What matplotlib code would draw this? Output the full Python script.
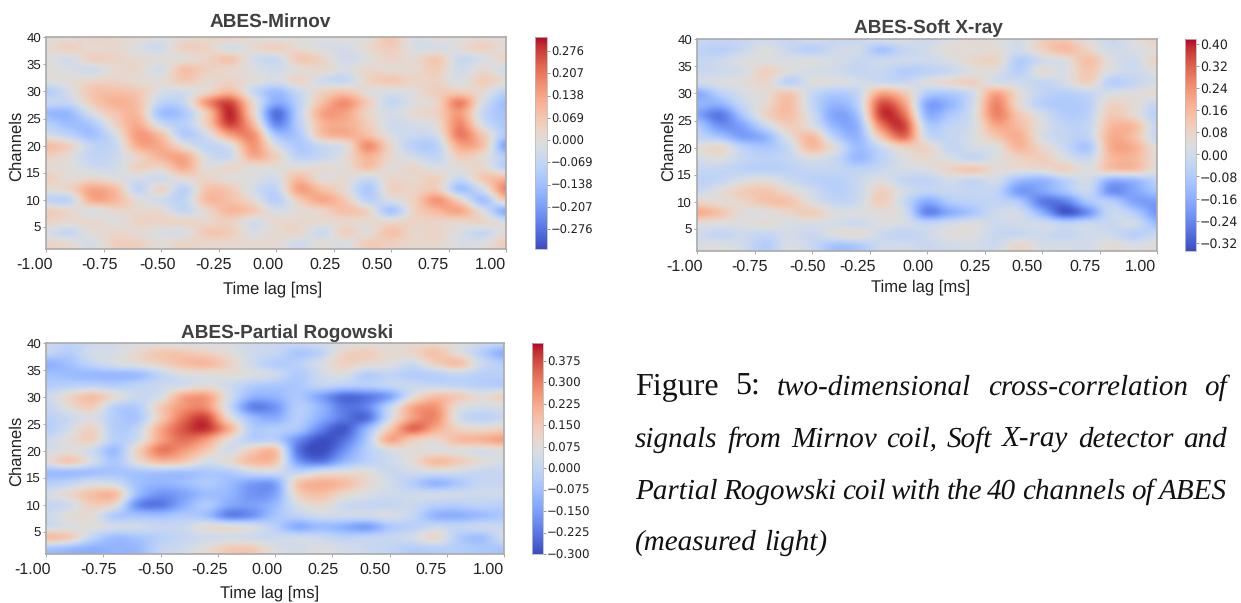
import numpy as np
import matplotlib
matplotlib.use("Agg")
import matplotlib.pyplot as plt
from matplotlib.transforms import ScaledTranslation

plt.rcParams["text.hinting"] = "no_hinting"
W, H = 1241, 603
time_lag = [round(-1 + 0.1 * i, 1) for i in range(21)]
channels = list(range(40, 0, -2))
x_ticks = [-1.00, -0.75, -0.50, -0.25, 0.00, 0.25, 0.50, 0.75, 1.00]
x_tick_labels = ["-1.00", "-0.75", "-0.50", "-0.25", "0.00", "0.25", "0.50", "0.75", "1.00"]
y_ticks = [5, 10, 15, 20, 25, 30, 35, 40]
titles = ["ABES-Mirnov", "ABES-Soft X-ray", "ABES-Partial Rogowski"]

# correlation x 100, rows = channels 40..2, columns = time lag -1..1
mirnov = [
 [0,0,3,2,1,-1,1,2,4,0,-1, -1,-1,0,0,7,-2,1,-1,1,1],
 [1,4,1,2,-2,-4,4,3,-3,1,4, 1,-2,-3,1,5,-2,-3,0,4,0],
 [-1,-3,4,3,1,0,0,3,7,-3,-5, 6,3,-4,-1,3,1,6,-5,-2,3],
 [0,-2,-4,1,2,-3,8,4,2,-1,-4, 0,2,-2,2,1,1,5,-4,1,-4],
 [-1,0,2,3,1,0,6,2,3,0,-3, 3,-4,-6,3,6,3,3,-2,5,1],
 [-10,-3,7,8,6,-2,-3,2,9,-5,-14, -5,3,6,0,-2,0,5,4,1,-8],
 [-6,-6,5,11,8,-7,-6,16,26,2,-18, -8,8,17,5,-6,-1,3,19,-2,-14],
 [-15,-15,-2,7,9,-13,-11,6,30,4,-28, -8,13,14,3,-3,1,4,15,-6,-13],
 [-9,-14,-11,3,12,-5,-9,5,27,10,-24, -9,10,12,5,-4,-3,1,18,-3,-12],
 [-3,-8,-13,-3,15,8,-10,-3,14,17,-12, -11,8,12,8,-2,-5,-3,20,6,-11],
 [9,4,-7,-6,12,12,0,-7,-2,16,-2, -11,-5,-1,17,2,-9,-8,13,8,-20],
 [4,0,-7,-5,3,11,13,-3,-5,12,4, -8,-6,0,11,2,-4,-7,5,1,-10],
 [1,0,-4,-4,4,3,12,0,2,0,0, 0,1,0,8,0,2,-2,0,2,-9],
 [5,0,2,-1,-3,-4,1,3,0,-1,-3, 9,0,1,-5,2,2,4,-5,6,10],
 [0,3,13,9,-7,3,-8,7,6,-3,-7, 14,8,1,-11,3,3,5,-13,-3,19],
 [-7,-7,12,10,0,-4,-7,9,8,1,-9, 5,13,6,-8,-2,4,16,3,-13,6],
 [5,2,-2,2,2,1,-6,2,10,6,-2, 0,3,8,3,-12,3,10,13,-2,-18],
 [3,1,2,-1,3,3,3,2,4,-3,1, 2,1,2,1,2,3,3,2,3,-3],
 [-2,-6,0,2,1,-2,-2,6,5,-2,1, 2,-5,4,0,8,2,3,-2,-6,1],
 [3,1,-3,4,4,0,3,2,2,1,1, -4,0,-2,5,4,2,2,-2,-1,5],
]
soft_xray = [
 [-2,-3,-2,-1,-2,0,-2,-2,2,2,-1,2,7,4,0,10,12,4,-2,3,10],
 [-4,-6,-2,3,-2,-6,-1,0,-10,-3,0,5,4,5,0,8,15,8,0,2,5],
 [-3,-1,3,3,2,3,1,-2,-1,-1,-1,2,7,8,-7,0,3,14,3,-1,9],
 [-2,-1,1,9,3,1,0,-3,-2,-7,-5,-2,3,3,-6,5,2,12,2,-1,3],
 [0,2,4,7,-5,3,3,1,-1,-2,3,7,9,1,0,-3,1,9,-6,-3,1],
 [-17,-6,1,5,12,-2,-8,-3,20,12,-7,-8,0,20,5,-4,-6,-3,2,3,6],
 [-14,-15,-2,6,15,-3,-14,-5,34,22,-17,-14,0,26,6,-6,-8,-6,8,5,-3],
 [-18,-27,-9,8,14,0,-18,-10,36,30,-14,-9,1,26,12,1,-7,-5,11,6,-6],
 [-8,-22,-18,-2,10,3,-14,-14,26,36,-6,-4,1,19,15,3,-4,-3,15,15,-3],
 [-4,-10,-19,-14,4,15,-6,-14,12,30,-1,-3,2,12,18,2,-3,-4,18,14,-3],
 [4,7,-5,-9,-2,15,3,-12,-2,8,8,-3,1,3,16,7,-2,-9,18,18,4],
 [1,3,-3,-5,-3,2,-2,-13,-5,3,6,2,-3,3,8,10,3,-2,15,16,5],
 [-3,-3,-5,-6,-5,-3,-3,-5,-2,1,2,8,12,5,5,5,9,3,13,14,4],
 [-5,-3,2,4,-1,-5,-6,-2,3,-3,-4,0,-3,0,-12,-14,-6,0,-15,-13,-5],
 [-2,4,10,12,6,0,-6,-2,9,1,-4,-2,-3,-4,-20,-18,-10,-2,-22,-18,-10],
 [8,5,7,13,13,3,-3,-1,10,-2,-17,-8,-5,-4,-8,-26,-26,-10,-6,-18,-20],
 [19,13,4,3,7,10,3,3,4,1,-24,-16,-9,-1,0,-15,-32,-22,-2,-7,-21],
 [4,3,3,5,2,2,1,-1,3,1,-3,0,3,-1,0,0,-4,-2,-2,0,-12],
 [0,-3,-1,-3,1,-2,3,5,-1,-4,-1,4,3,-2,-2,-1,-3,0,-1,-6,-2],
 [2,3,0,-7,2,-2,-10,-8,-1,0,-2,0,1,-1,7,1,1,0,5,2,4],
]
rogowski = [
 [3,0,2,4,5,5,4,5,5,3,2,2,4,5,7,7,9,9,7,3,2],
 [0,-3,4,5,10,15,15,12,8,3,1,-5,-1,11,13,9,11,16,8,-2,-12],
 [-11,-7,0,5,8,12,17,19,12,3,-3,-2,5,12,10,7,3,12,17,3,-3],
 [-7,-8,-9,-9,-8,0,6,7,8,6,3,-4,3,6,-3,0,-3,-2,1,-2,-2],
 [-3,-2,-1,-3,-1,2,4,8,3,-3,-5,-5,0,-2,-3,0,2,1,0,-2,-3],
 [2,10,17,9,2,5,22,24,5,-10,-10,-5,-14,-24,-22,-14,6,17,14,8,13],
 [0,8,13,-2,-3,14,26,27,2,-20,-17,-3,-10,-22,-20,0,22,26,8,4,5],
 [-2,2,6,-3,-5,14,32,38,10,-8,-12,-3,-12,-22,-24,3,24,28,5,-1,2],
 [-3,4,12,-3,0,22,36,40,21,-3,-3,-5,-20,-28,-10,14,33,22,12,10,12],
 [2,8,12,-2,3,23,32,25,8,-2,-2,-18,-29,-24,-5,22,14,10,18,20,24],
 [4,7,3,-8,12,30,25,15,4,14,17,-22,-30,-18,-3,5,8,7,7,5,7],
 [7,15,5,-5,8,18,15,5,9,18,16,-15,-22,-10,-2,3,8,18,14,8,5],
 [-8,-8,-7,-6,-6,-6,-7,-5,-4,2,3,0,6,8,8,2,3,4,3,1,1],
 [-3,0,5,3,-7,-10,-8,-4,-8,-15,-14,15,21,18,10,4,-3,-10,-5,1,1],
 [4,10,17,18,-8,-17,-14,-8,-10,-17,-14,12,17,10,6,3,3,3,3,3,3],
 [1,3,13,9,-18,-22,-12,-4,-13,-15,-9,5,10,3,1,1,2,-2,-3,-1,-2],
 [2,8,8,-4,-6,-7,-4,-7,-20,-17,-6,-1,3,3,3,5,1,-10,-11,-8,-5],
 [3,6,7,4,3,1,2,8,8,5,-2,-12,-8,-11,-15,-5,-2,2,0,2,2],
 [18,14,0,-8,-6,-2,1,3,4,3,2,3,2,-1,0,1,4,10,-3,-7,3],
 [-5,-8,-11,-10,-9,0,3,8,14,14,6,4,6,4,2,0,-3,-2,-3,-5,-5],
]
mirnov_ticks = [-0.276, -0.207, -0.138, -0.069, 0.0, 0.069, 0.138, 0.207, 0.276]
sxr_ticks = [-0.32, -0.24, -0.16, -0.08, 0.0, 0.08, 0.16, 0.24, 0.32, 0.40]
rog_ticks = [-0.300, -0.225, -0.150, -0.075, 0.0, 0.075, 0.150, 0.225, 0.300, 0.375]

panels = [
    dict(data=mirnov, box=(46, 37, 506, 249), cbar=(535, 547), vmin=-0.338, vmax=0.32,
         ticks=mirnov_ticks, fmt="{:.3f}", cfs=8.3, title_xy=(270, 22), xlab_xy=(273, 289), ylab_xy=(17, 146),
         off=[-11, -3.5, -3, -4.5, -8, -8.5, -14, -15.5, -16]),
    dict(data=soft_xray, box=(697, 39, 1157, 251), cbar=(1185, 1196), vmin=-0.35, vmax=0.418,
         ticks=sxr_ticks, fmt="{:.2f}", cfs=9, title_xy=(928, 28), xlab_xy=(921, 287), ylab_xy=(669, 146),
         off=[-12, -4.5, -4, -11.5, -9, -9.5, -15, -14.5, -17]),
    dict(data=rogowski, box=(46, 343, 504, 554), cbar=(532, 543), vmin=-0.30, vmax=0.438,
         ticks=rog_ticks, fmt="{:.3f}", cfs=8.5, title_xy=(287, 333), xlab_xy=(270, 593), ylab_xy=(17, 451),
         off=[-13, -5, -4.5, -8, -8, -9, -14.5, -16, -16]),
]

fig = plt.figure(figsize=(W / 100, H / 100), dpi=100, facecolor="white")
sans = "Liberation Sans"
dark = "#222222"
dx = time_lag[1] - time_lag[0]

for p in panels:
    x0, y0, x1, y1 = p["box"]
    ax = fig.add_axes([x0 / W, 1 - y1 / H, (x1 - x0) / W, (y1 - y0) / H])
    im = ax.imshow(np.array(p["data"]) / 100, cmap="coolwarm", vmin=p["vmin"], vmax=p["vmax"],
                   aspect="auto", interpolation="catrom", origin="upper",
                   extent=(time_lag[0] - dx / 2, time_lag[-1] + dx / 2, channels[-1] - 1, channels[0] + 1))
    ax.set_xlim(-1, 1)
    ax.set_ylim(1, 40)
    ax.set_xticks(x_ticks, x_tick_labels, fontfamily=sans, fontsize=11.5, color=dark)
    ax.set_yticks(y_ticks, [str(v) for v in y_ticks], fontfamily=sans, fontsize=9.5, color=dark)
    ax.tick_params(axis="x", length=2, width=0.6, color="#999999", pad=4)
    ax.tick_params(axis="y", length=2, width=0.6, color="#999999", pad=1.5)
    for lab, d in zip(ax.get_xticklabels(), p["off"]):
        lab.set_transform(lab.get_transform() + ScaledTranslation(d / 100, 0, fig.dpi_scale_trans))
    for s in ax.spines.values():
        s.set_color("#aaaaaa")
        s.set_linewidth(1.2)
    cx0, cx1 = p["cbar"]
    cax = fig.add_axes([cx0 / W, 1 - y1 / H, (cx1 - cx0) / W, (y1 - y0) / H])
    cb = fig.colorbar(im, cax=cax, ticks=p["ticks"])
    cb.ax.set_yticklabels([p["fmt"].format(t).replace("-", "\u2212") for t in p["ticks"]],
                          fontfamily="DejaVu Sans", fontsize=p["cfs"], color=dark)
    cb.ax.tick_params(length=2, width=0.6, color="#888888", pad=1)
    cb.outline.set_edgecolor("#bbbbbb")
    cb.outline.set_linewidth(0.6)

for p, title in zip(panels, titles):
    fig.text(p["title_xy"][0] / W, 1 - p["title_xy"][1] / H, title, ha="center", va="center",
             fontfamily=sans, fontweight="bold", fontsize=13.7, color="#404040")
    fig.text(p["xlab_xy"][0] / W, 1 - p["xlab_xy"][1] / H, "Time lag [ms]", ha="center", va="center",
             fontfamily=sans, fontsize=12, color=dark)
    fig.text(p["ylab_xy"][0] / W, 1 - p["ylab_xy"][1] / H, "Channels", ha="center", va="center",
             rotation=90, fontfamily=sans, fontsize=12, color=dark)

caption = [
    (395, [("Figure", "normal"), ("5:", "normal"), ("two-dimensional", "italic"), ("cross-correlation", "italic"), ("of", "italic")], True),
    (447, [(w, "italic") for w in "signals from Mirnov coil, Soft X-ray detector and".split()], True),
    (499, [(w, "italic") for w in "Partial Rogowski coil with the 40 channels of ABES".split()], True),
    (550, [(w, "italic") for w in "(measured light)".split()], False),
]
cap_left, cap_right = 635, 1227
cap_sizes = {"normal": 23, "italic": 21}
renderer = fig.canvas.get_renderer()
for base, words, justify in caption:
    items = [fig.text(0, 1 - base / H, w, fontfamily="Liberation Serif", style=s, fontsize=cap_sizes[s],
                      color="#111111", va="baseline") for w, s in words]
    widths = [t.get_window_extent(renderer).width for t in items]
    gap = (cap_right - cap_left - sum(widths)) / (len(items) - 1) if justify else 7.5
    x = cap_left
    for t, w in zip(items, widths):
        t.set_x(x / W)
        x += w + gap

fig.savefig("out.png", dpi=100)
